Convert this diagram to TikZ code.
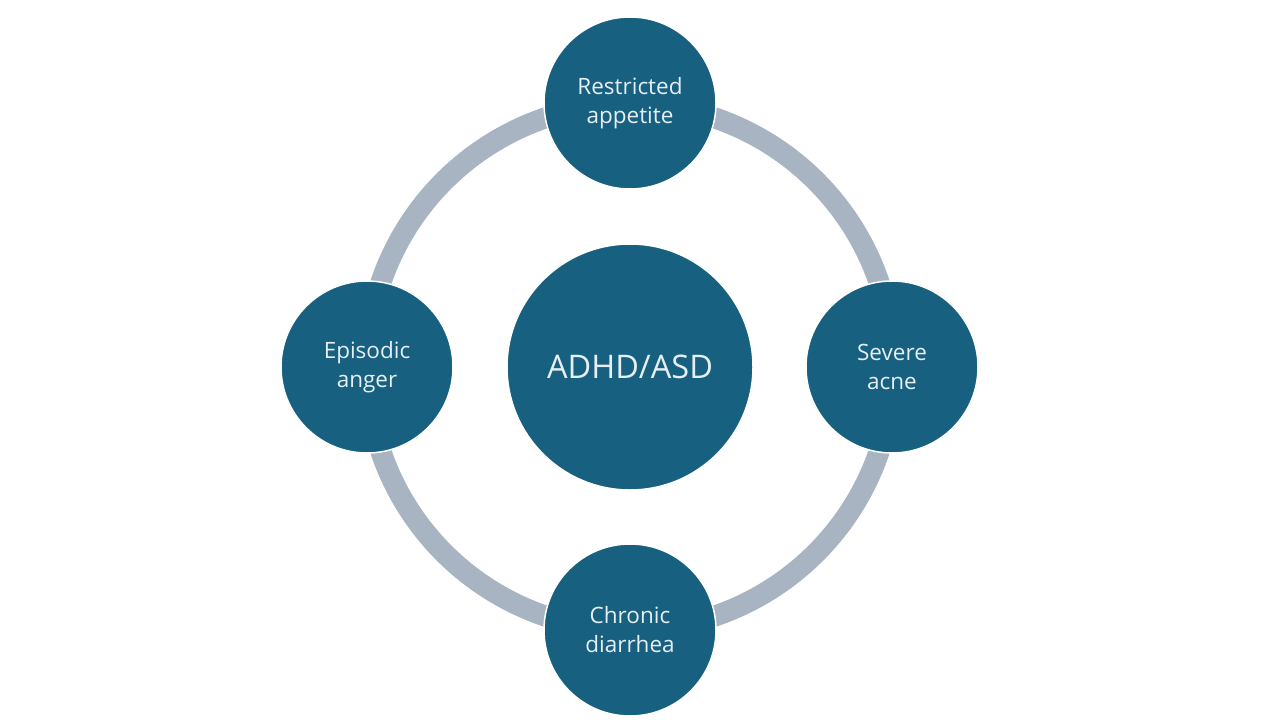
\documentclass[tikz,border=0pt]{standalone}
\usepackage{fontspec}
\setmainfont{Open Sans}
\definecolor{nodeblue}{HTML}{17607F}
\definecolor{ringgray}{HTML}{A8B4C1}
\definecolor{txt}{HTML}{E6EFF3}
\begin{document}
\begin{tikzpicture}[x=1pt,y=-1pt,
  small/.style={circle, fill=nodeblue, draw=white, line width=1.5pt, minimum size=172pt, inner sep=0pt,
    align=center, text=txt, font=\fontsize{22.5}{29}\selectfont},
  big/.style={circle, fill=nodeblue, draw=white, line width=1.5pt, minimum size=246pt, inner sep=0pt,
    align=center, text=txt, font=\fontsize{32.5}{36}\selectfont},
  ring/.style={draw=ringgray, line width=21pt}]
\useasboundingbox (0,0) rectangle (1280,720);
\fill[white] (0,0) rectangle (1280,720);
\coordinate (c) at (630,367);
\draw[ring] (c) circle[radius=263pt];
\node[big] (center) at (c) {ADHD/ASD};
\node[small] (top) at (630,103) {Restricted\\appetite};
\node[small] (right) at (892,367) {Severe\\acne};
\node[small] (bottom) at (630,630) {Chronic\\diarrhea};
\node[small] (left) at (367,367) {Episodic\\anger};
\end{tikzpicture}
\end{document}
